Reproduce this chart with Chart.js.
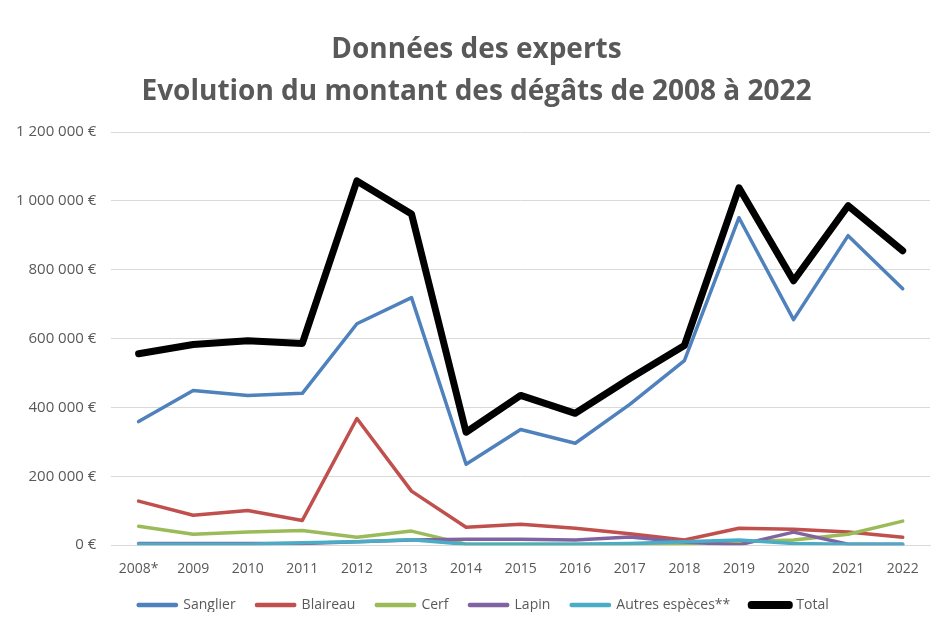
<!DOCTYPE html>
<html>
<head>
<meta charset="utf-8">
<script src="https://cdn.jsdelivr.net/npm/chart.js@4"></script>
<style>
  html, body { margin: 0; padding: 0; background: #fff; }
  #wrap { width: 938px; height: 619px; }
</style>
</head>
<body>
<div id="wrap"><canvas id="degatsChart" width="938" height="619"></canvas></div>
<script>
const ctx = document.getElementById('degatsChart').getContext('2d');

// Années
const years = ['2008*', '2009', '2010', '2011', '2012', '2013', '2014', '2015',
	'2016', '2017', '2018', '2019', '2020', '2021', '2022'];

// Montants des dégâts (€)
const sanglier = [359000, 449000, 435000, 441000, 643000, 719000, 235000, 336000,
	296000, 409000, 536000, 951000, 655000, 899000, 745000];
const blaireau = [128000, 87000, 101000, 72000, 368000, 157000, 52000, 61000,
	49000, 33000, 15000, 49000, 46000, 38000, 23000];
const cerf = [55000, 32000, 38000, 43000, 23000, 41000, 3000, 3000,
	3000, 3000, 5000, 10000, 15000, 32000, 70000];
const lapin = [5000, 5000, 5000, 5000, 10000, 15000, 17000, 17000,
	15000, 24000, 9000, 1000, 38000, 3000, 3000];
const autres = [3000, 3000, 3000, 7000, 10000, 16000, 3000, 3000,
	3000, 5000, 10000, 15000, 5000, 3000, 3000];
const total = [556000, 583000, 594000, 586000, 1058000, 962000, 328000, 435000,
	383000, 484000, 580000, 1038000, 768000, 986000, 855000];

const yTicks = [0, 200000, 400000, 600000, 800000, 1000000, 1200000];

function euro(v) {
	return String(v).replace(/\B(?=(\d{3})+(?!\d))/g, ' ') + ' €';
}

function serie(label, data, color, width, order) {
	return {
		label: label,
		data: data,
		borderColor: color,
		backgroundColor: color,
		borderWidth: width,
		pointRadius: 0,
		tension: 0,
		borderJoinStyle: 'round',
		borderCapStyle: 'round',
		order: order
	};
}

const grey = '#595959';

// small position tweaks for title and legend
const nudge = {
	id: 'nudge',
	beforeInit(chart) {
		const fit = chart.legend.fit;
		chart.legend.fit = function () {
			fit.call(this);
			this.height -= 10;
		};
	},
	afterLayout(chart) {
		chart.titleBlock.left += 11;
		chart.titleBlock.right += 11;
		chart.legend.top -= 7;
		chart.legend.bottom -= 7;
		chart.legend.left += 18;
		chart.legend.right += 18;
	}
};

new Chart(ctx, {
	type: 'line',
	data: {
		labels: years,
		datasets: [
			serie('Sanglier', sanglier, '#4f81bd', 3.5, 5),
			serie('Blaireau', blaireau, '#c0504d', 3.5, 4),
			serie('Cerf', cerf, '#9bbb59', 3.5, 3),
			serie('Lapin', lapin, '#8064a2', 3.5, 2),
			serie('Autres espèces**', autres, '#4bacc6', 3.5, 1),
			serie('Total', total, '#000000', 7, 0)
		]
	},
	plugins: [nudge],
	options: {
		responsive: false,
		animation: false,
		layout: { padding: { left: 1, right: 8, top: 29, bottom: 0 } },
		plugins: {
			title: {
				display: true,
				text: ['Données des experts', 'Evolution du montant des dégâts de 2008 à 2022'],
				color: grey,
				font: { family: 'Open Sans', size: 28, weight: 'bold', lineHeight: 1.5 },
				padding: { top: 0, bottom: 19 }
			},
			legend: {
				position: 'bottom',
				labels: {
					color: grey,
					font: { family: 'Open Sans', size: 14 },
					boxWidth: 38,
					boxHeight: 1,
					padding: 21,
					sort: (a, b) => a.datasetIndex - b.datasetIndex
				}
			},
			tooltip: { enabled: false }
		},
		scales: {
			x: {
				offset: true,
				grid: { display: false },
				border: { color: '#d9d9d9' },
				ticks: { color: grey, font: { family: 'Open Sans', size: 14 }, padding: 7 }
			},
			y: {
				min: 0,
				max: 1200000,
				afterBuildTicks: (axis) => { axis.ticks = yTicks.map(v => ({ value: v })); },
				grid: { color: '#d9d9d9', drawTicks: false },
				border: { display: false },
				ticks: {
					color: grey,
					font: { family: 'Open Sans', size: 15 },
					padding: 15,
					callback: (v) => euro(v)
				}
			}
		}
	}
});
</script>
</body>
</html>
